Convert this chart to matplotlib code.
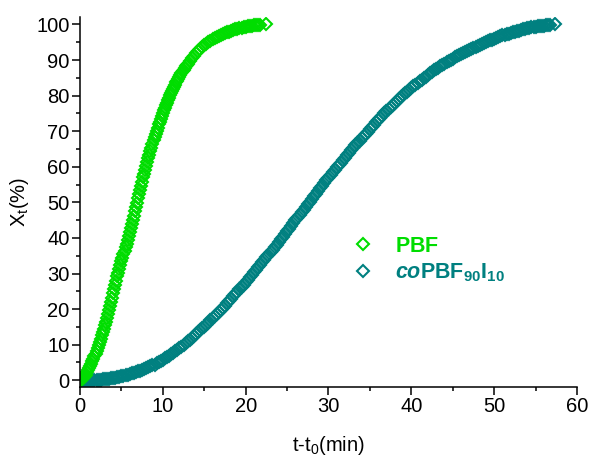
import matplotlib
matplotlib.use('Agg')
import matplotlib.pyplot as plt
from matplotlib.ticker import MultipleLocator

# PBF: relative crystallinity X_t (%) vs t - t0 (min)
t_pbf = [0.125, 0.25, 0.375, 0.5, 0.625, 0.75, 0.875, 1.0, 1.125, 1.25, 1.375, 1.5, 1.625, 1.75, 1.875, 2.0,
         2.125, 2.25, 2.375, 2.5, 2.625, 2.75, 2.875, 3.0, 3.125, 3.25, 3.375, 3.5, 3.625, 3.75, 3.875, 4.0,
         4.125, 4.25, 4.375, 4.5, 4.625, 4.75, 4.875, 5.0, 5.125, 5.25, 5.375, 5.5, 5.625, 5.75, 5.875, 6.0,
         6.125, 6.25, 6.375, 6.5, 6.625, 6.75, 6.875, 7.0, 7.125, 7.25, 7.375, 7.5, 7.625, 7.75, 7.875, 8.0,
         8.125, 8.25, 8.375, 8.5, 8.625, 8.75, 8.875, 9.0, 9.125, 9.25, 9.375, 9.5, 9.625, 9.75, 9.875, 10.0,
         10.125, 10.25, 10.375, 10.5, 10.625, 10.75, 10.875, 11.0, 11.125, 11.25, 11.375, 11.5, 11.625, 11.75, 11.875, 12.0,
         12.125, 12.25, 12.375, 12.5, 12.625, 12.75, 12.875, 13.0,
         13.25, 13.5, 13.75, 14.0, 14.25, 14.5, 14.75, 15.0, 15.25, 15.5, 15.75, 16.0,
         16.25, 16.5, 16.75, 17.0, 17.25, 17.5, 17.75, 18.0, 18.25, 18.5, 18.75, 19.0, 19.25, 19.5, 19.75, 20.0,
         20.25, 20.5, 20.75, 21.0, 21.25, 21.5, 21.75, 22.4]
x_pbf = [0.1, 0.3, 0.5, 0.8, 1.2, 1.6, 2.2, 2.8, 3.4, 4.0, 4.6, 5.3, 6.0, 6.7, 7.4, 8.2,
         9.0, 9.9, 10.8, 11.7, 12.6, 13.5, 14.5, 15.5, 16.5, 17.6, 18.7, 19.8, 20.9, 22.1, 23.2, 24.4,
         25.6, 26.8, 28.0, 29.2, 30.2, 31.3, 32.3, 33.4, 34.4, 35.4, 36.4, 37.4, 38.4, 39.5, 40.5, 41.6,
         42.7, 43.9, 45.1, 46.3, 47.5, 48.7, 49.9, 51.1, 52.3, 53.5, 54.6, 55.8, 57.0, 58.1, 59.2, 60.3,
         61.4, 62.4, 63.4, 64.4, 65.4, 66.4, 67.4, 68.3, 69.2, 70.1, 71.0, 71.9, 72.7, 73.5, 74.3, 75.1,
         75.9, 76.6, 77.3, 78.0, 78.7, 79.4, 80.1, 80.7, 81.3, 81.9, 82.5, 83.1, 83.7, 84.2, 84.8, 85.3,
         85.8, 86.3, 86.8, 87.3, 87.8, 88.2, 88.6, 89.0,
         89.8, 90.5, 91.2, 91.9, 92.5, 93.1, 93.6, 94.1, 94.6, 95.0, 95.4, 95.8,
         96.1, 96.5, 96.8, 97.0, 97.3, 97.5, 97.8, 98.0, 98.2, 98.4, 98.6, 98.8, 98.9, 99.1, 99.2, 99.4,
         99.5, 99.6, 99.7, 99.8, 99.85, 99.9, 99.95, 100.0]

# coPBF90I10
t_co = [0.0, 0.25, 0.5, 0.75, 1.0, 1.25, 1.5, 1.75, 2.0, 2.25, 2.5, 2.75, 3.0, 3.25, 3.5, 3.75,
        4.0, 4.25, 4.5, 4.75, 5.0, 5.25, 5.5, 5.75, 6.0, 6.25, 6.5, 6.75, 7.0, 7.25, 7.5, 7.75,
        8.0, 8.25, 8.5, 8.75, 9.0, 9.25, 9.5, 9.75, 10.0, 10.25, 10.5, 10.75, 11.0, 11.25, 11.5, 11.75,
        12.0, 12.25, 12.5, 12.75, 13.0, 13.25, 13.5, 13.75, 14.0, 14.25, 14.5, 14.75, 15.0, 15.25, 15.5, 15.75,
        16.0, 16.25, 16.5, 16.75, 17.0, 17.25, 17.5, 17.75, 18.0, 18.25, 18.5, 18.75, 19.0, 19.25, 19.5, 19.75,
        20.0, 20.25, 20.5, 20.75, 21.0, 21.25, 21.5, 21.75, 22.0, 22.25, 22.5, 22.75, 23.0, 23.25, 23.5, 23.75,
        24.0, 24.25, 24.5, 24.75, 25.0, 25.25, 25.5, 25.75, 26.0, 26.25, 26.5, 26.75, 27.0, 27.25, 27.5, 27.75,
        28.0, 28.25, 28.5, 28.75, 29.0, 29.25, 29.5, 29.75, 30.0, 30.25, 30.5, 30.75, 31.0, 31.25, 31.5, 31.75,
        32.0, 32.25, 32.5, 32.75, 33.0, 33.25, 33.5, 33.75, 34.0, 34.25, 34.5, 34.75, 35.0, 35.25, 35.5, 35.75,
        36.0, 36.25, 36.5, 36.75, 37.0, 37.25, 37.5, 37.75, 38.0, 38.25, 38.5, 38.75, 39.0, 39.25, 39.5, 39.75,
        40.0, 40.25, 40.5, 40.75, 41.0, 41.25, 41.5, 41.75, 42.0, 42.25, 42.5, 42.75, 43.0, 43.25, 43.5, 43.75,
        44.0, 44.25, 44.5, 44.75, 45.0, 45.25, 45.5, 45.75, 46.0, 46.25, 46.5, 46.75, 47.0, 47.25, 47.5, 47.75,
        48.0, 48.25, 48.5, 48.75, 49.0, 49.25, 49.5, 49.75, 50.0, 50.25, 50.5, 50.75, 51.0, 51.25, 51.5, 51.75,
        52.0, 52.25, 52.5, 52.75, 53.0, 53.25, 53.5, 53.75, 54.0, 54.25, 54.5, 54.75, 55.0, 55.25, 55.5, 55.75,
        56.0, 56.25, 56.5, 56.75, 57.4]
x_co = [0.0, 0.0, 0.0, 0.0, 0.0, 0.02, 0.05, 0.07, 0.1, 0.15, 0.2, 0.25, 0.3, 0.37, 0.45, 0.52,
        0.6, 0.72, 0.85, 0.97, 1.1, 1.25, 1.4, 1.55, 1.7, 1.9, 2.1, 2.3, 2.5, 2.7, 2.9, 3.15,
        3.4, 3.65, 3.9, 4.15, 4.4, 4.75, 5.1, 5.45, 5.8, 6.15, 6.5, 6.9, 7.3, 7.7, 8.1, 8.55,
        9.0, 9.45, 9.9, 10.4, 10.9, 11.4, 11.9, 12.4, 12.9, 13.45, 14.0, 14.55, 15.1, 15.65, 16.2, 16.8,
        17.4, 18.0, 18.6, 19.2, 19.8, 20.4, 21.0, 21.65, 22.3, 22.95, 23.6, 24.25, 24.9, 25.55, 26.2, 26.85,
        27.5, 28.2, 28.9, 29.6, 30.3, 31.0, 31.7, 32.4, 33.1, 33.8, 34.5, 35.25, 36.0, 36.7, 37.4, 38.15,
        38.9, 39.65, 40.4, 41.15, 41.9, 42.65, 43.4, 44.15, 44.9, 45.65, 46.4, 47.15, 47.9, 48.65, 49.4, 50.15,
        50.9, 51.65, 52.4, 53.15, 53.9, 54.65, 55.4, 56.15, 56.9, 57.65, 58.4, 59.1, 59.8, 60.5, 61.2, 61.9,
        62.6, 63.3, 64.0, 64.65, 65.3, 66.0, 66.7, 67.35, 68.0, 68.65, 69.3, 69.9, 70.5, 71.15, 71.8, 72.45,
        73.1, 73.75, 74.4, 75.0, 75.6, 76.2, 76.8, 77.35, 77.9, 78.45, 79.0, 79.55, 80.1, 80.6, 81.1, 81.6,
        82.1, 82.6, 83.1, 83.55, 84.0, 84.45, 84.9, 85.35, 85.8, 86.25, 86.7, 87.1, 87.5, 87.9, 88.3, 88.65,
        89.0, 89.35, 89.7, 90.05, 90.4, 90.75, 91.1, 91.4, 91.7, 92.0, 92.3, 92.6, 92.9, 93.2, 93.5, 93.75,
        94.0, 94.25, 94.5, 94.75, 95.0, 95.25, 95.5, 95.7, 95.9, 96.15, 96.4, 96.65, 96.9, 97.1, 97.3, 97.45,
        97.6, 97.8, 98.0, 98.15, 98.3, 98.45, 98.6, 98.75, 98.9, 99.05, 99.2, 99.3, 99.4, 99.5, 99.6, 99.65,
        99.7, 99.75, 99.8, 99.85, 100.0]

green = '#00dd00'
teal = '#008080'

plt.rcParams['font.family'] = ['Liberation Sans', 'DejaVu Sans']
plt.rcParams['mathtext.fontset'] = 'custom'
plt.rcParams['mathtext.rm'] = 'Liberation Sans'
plt.rcParams['mathtext.it'] = 'Liberation Sans:italic'
plt.rcParams['mathtext.bf'] = 'Liberation Sans:bold'
plt.rcParams['mathtext.bfit'] = 'Liberation Sans:italic:bold'

fig = plt.figure(figsize=(5.92, 4.61), dpi=100)
ax = fig.add_axes([80 / 592, 74 / 461, 497 / 592, 370 / 461])

ax.plot(t_co, x_co, 'D', ms=6.5, mew=1.5, mfc='none', mec=teal, color=teal,
        label=r'$\mathbfit{co}\mathbf{PBF}_{\mathbf{90}}\mathbf{I}_{\mathbf{10}}$')
ax.plot(t_pbf, x_pbf, 'D', ms=6.5, mew=1.5, mfc='none', mec=green, color=green,
        label=r'$\mathbf{PBF}$')

ax.set_xlim(0, 60)
ax.set_ylim(-1.9, 102.1)
ax.xaxis.set_major_locator(MultipleLocator(10))
ax.xaxis.set_minor_locator(MultipleLocator(5))
ax.yaxis.set_major_locator(MultipleLocator(10))
ax.yaxis.set_minor_locator(MultipleLocator(5))

for side in ['top', 'right']:
    ax.spines[side].set_visible(False)
for side in ['left', 'bottom']:
    ax.spines[side].set_linewidth(1.1)

ax.tick_params(which='major', direction='out', length=5.5, width=1.1, labelsize=14.5, pad=2)
ax.tick_params(which='minor', direction='out', length=3.2, width=1.1)

ax.set_xlabel(r't-t$_\mathrm{0}$(min)', fontsize=14.5, labelpad=13)
ax.set_ylabel(r'X$_\mathrm{t}$(%)', fontsize=14.5, labelpad=4)

handles, labels = ax.get_legend_handles_labels()
leg = ax.legend(handles[::-1], labels[::-1], loc='upper left', bbox_to_anchor=(0.509, 0.432),
                borderaxespad=0, frameon=False, fontsize=15.5, labelspacing=0.23,
                handletextpad=0.49)
for txt, c in zip(leg.get_texts(), [green, teal]):
    txt.set_color(c)

fig.savefig('out.png', dpi=100)
